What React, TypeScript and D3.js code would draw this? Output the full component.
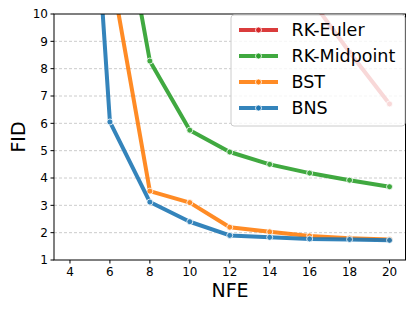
import React from "react";
import * as d3 from "d3";

const nfe = [4, 6, 8, 10, 12, 14, 16, 18, 20];
const rkEuler = [60, 40, 28, 20, 16, 13, 10.6, 8.6, 6.71];
const rkMidpoint = [30, 16.3, 8.28, 5.75, 4.95, 4.5, 4.18, 3.92, 3.68];
const bst = [25, 11.8, 3.52, 3.1, 2.2, 2.03, 1.88, 1.8, 1.75];
const bns = [28, 6.05, 3.12, 2.4, 1.9, 1.83, 1.77, 1.75, 1.72];
const seriesNames = ["RK-Euler", "RK-Midpoint", "BST", "BNS"];
const seriesColors = ["#d62728", "#2ca02c", "#ff7f0e", "#1f77b4"];
const xTicks = [4, 6, 8, 10, 12, 14, 16, 18, 20];
const yTicks = [1, 2, 3, 4, 5, 6, 7, 8, 9, 10];

const W = 415, H = 311;
const L = 54, R = 405.5, T = 14, B = 260;
const font = "DejaVu Sans, sans-serif";

export default function App() {
  const x = d3.scaleLinear().domain([3.2, 20.8]).range([L, R]);
  const y = d3.scaleLinear().domain([1, 10]).range([B, T]);
  const allSeries = [rkEuler, rkMidpoint, bst, bns];
  const line = d3.line<number>().x((_, i) => x(nfe[i])).y((v) => y(v));
  const legX = 231, legY = 15, legW = 174, legH = 111;
  return (
    <svg width={W} height={H} style={{ position: "absolute", left: 0, top: 0 }}>
      <defs>
        <clipPath id="plot">
          <rect x={L} y={T} width={R - L} height={B - T} />
        </clipPath>
      </defs>
      <rect x={0} y={0} width={W} height={H} fill="#fff" />
      {yTicks.slice(1, -1).map((t) => (
        <line key={t} x1={L} x2={R} y1={y(t)} y2={y(t)} stroke="#b0b0b0" strokeWidth={0.8} strokeDasharray="3,2" opacity={0.8} />
      ))}
      <g clipPath="url(#plot)">
        {allSeries.map((s, k) => (
          <g key={k} opacity={0.9}>
            <path d={line(s) || ""} fill="none" stroke={seriesColors[k]} strokeWidth={4} strokeLinejoin="round" />
            {s.map((v, i) => (
              <circle key={i} cx={x(nfe[i])} cy={y(v)} r={3} fill={seriesColors[k]} stroke="#fff" strokeWidth={0.8} />
            ))}
          </g>
        ))}
      </g>
      <rect x={L} y={T} width={R - L} height={B - T} fill="none" stroke="#000" strokeWidth={1} />
      {yTicks.map((t) => (
        <g key={t}>
          <line x1={L - 3.5} x2={L} y1={y(t)} y2={y(t)} stroke="#000" strokeWidth={1} />
          <text x={L - 6} y={y(t)} dy="0.36em" textAnchor="end" fontSize={12} fontFamily={font}>{t}</text>
        </g>
      ))}
      {xTicks.map((t) => (
        <g key={t}>
          <line x1={x(t)} x2={x(t)} y1={B} y2={B + 3.5} stroke="#000" strokeWidth={1} />
          <text x={x(t)} y={B + 16} textAnchor="middle" fontSize={12} fontFamily={font}>{t}</text>
        </g>
      ))}
      <text x={230} y={297} textAnchor="middle" fontSize={19} fontFamily={font}>NFE</text>
      <text transform={`translate(25,${(T + B) / 2}) rotate(-90)`} textAnchor="middle" fontSize={19} fontFamily={font}>FID</text>
      <g>
        <rect x={legX} y={legY} width={legW} height={legH} rx={3} fill="#fff" fillOpacity={0.8} stroke="#ccc" strokeWidth={1} />
        {seriesNames.map((n, k) => {
          const cy = legY + 15 + k * 26;
          return (
            <g key={n}>
              <line x1={legX + 8} x2={legX + 47} y1={cy} y2={cy} stroke={seriesColors[k]} strokeWidth={4} opacity={0.9} />
              <circle cx={legX + 27.5} cy={cy} r={3} fill={seriesColors[k]} stroke="#fff" strokeWidth={0.8} />
              <text x={legX + 60.5} y={cy} dy="0.36em" fontSize={17.5} fontFamily={font}>{n}</text>
            </g>
          );
        })}
      </g>
    </svg>
  );
}
